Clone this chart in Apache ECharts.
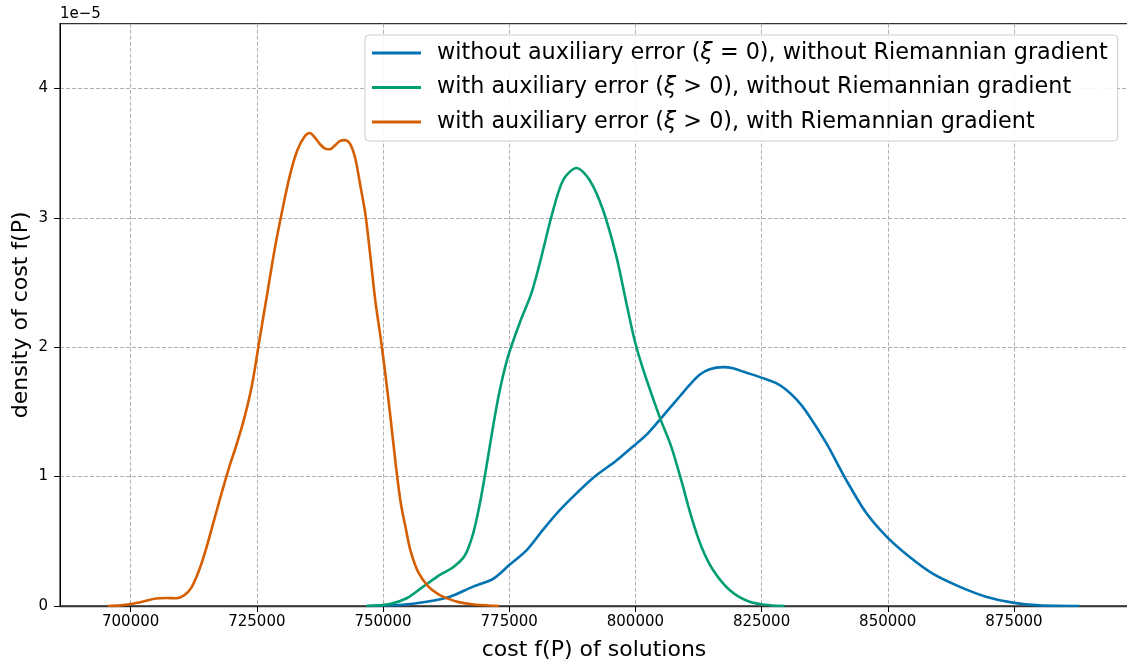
<!DOCTYPE html>
<html>
<head>
<meta charset="utf-8">
<script src="https://cdn.jsdelivr.net/npm/echarts@6/dist/echarts.min.js"></script>
<style>
html,body{margin:0;padding:0;background:#fff;}
#c{width:1127px;height:664px;}
</style>
</head>
<body>
<div id="c"></div>
<script>
// ---- data (x in cost units, y in units of 1e-5) ----
const seriesNames = [
  "without auxiliary error (ξ = 0), without Riemannian gradient",
  "with auxiliary error (ξ > 0), without Riemannian gradient",
  "with auxiliary error (ξ > 0), with Riemannian gradient"
];
const seriesColors = ["#0173b2", "#029e73", "#d55e00"];

const blueX = [746750, 753350, 758630, 763240, 767850, 771810, 775120, 778420, 781720, 785020, 788320, 791610, 796240, 799530, 802170, 804810, 806790, 808770, 810750, 812730, 814710, 817350, 819330, 821300, 825260, 827900, 829880, 831860, 833840, 837800, 841760, 845720, 849680, 854290, 858900, 864190, 869470, 874740, 880020, 887940];
const blueY = [0, 0.008, 0.033, 0.072, 0.15, 0.21, 0.32, 0.43, 0.59, 0.74, 0.87, 0.99, 1.124, 1.233, 1.322, 1.438, 1.529, 1.619, 1.709, 1.787, 1.83, 1.846, 1.838, 1.812, 1.761, 1.722, 1.671, 1.598, 1.503, 1.26, 0.975, 0.72, 0.54, 0.38, 0.25, 0.15, 0.072, 0.026, 0.005, 0];

const greenX = [746750, 751370, 754670, 757960, 761260, 763900, 766210, 767850, 769180, 770500, 771810, 773140, 774780, 777100, 779420, 781390, 783370, 785670, 788320, 790950, 793590, 796240, 798220, 799870, 801520, 804810, 807120, 809100, 811080, 813060, 815360, 818660, 822620, 827240, 829550];
const greenY = [0, 0.015, 0.06, 0.15, 0.24, 0.30, 0.39, 0.56, 0.79, 1.08, 1.39, 1.67, 1.93, 2.19, 2.42, 2.70, 3.01, 3.29, 3.385, 3.29, 3.06, 2.70, 2.34, 2.05, 1.83, 1.46, 1.23, 0.97, 0.69, 0.46, 0.28, 0.124, 0.033, 0.003, 0];

const orangeX = [695500, 698000, 700000, 702500, 705000, 707000, 709000, 710500, 712000, 713500, 715000, 716500, 718000, 719500, 721000, 722500, 724000, 725500, 727000, 728500, 730000, 731500, 733000, 734500, 735500, 736500, 737500, 738500, 739500, 740500, 741500, 742500, 743500, 744500, 745500, 746500, 747500, 748500, 749500, 750500, 751500, 752500, 753500, 754500, 755500, 757000, 759000, 761000, 763000, 765000, 768000, 771000, 773000];
const orangeY = [0, 0.005, 0.015, 0.035, 0.058, 0.062, 0.06, 0.08, 0.14, 0.27, 0.45, 0.66, 0.87, 1.07, 1.25, 1.45, 1.70, 2.05, 2.40, 2.75, 3.05, 3.32, 3.52, 3.63, 3.655, 3.62, 3.57, 3.535, 3.53, 3.56, 3.595, 3.60, 3.57, 3.46, 3.25, 3.03, 2.70, 2.35, 2.08, 1.78, 1.45, 1.10, 0.80, 0.60, 0.42, 0.26, 0.15, 0.09, 0.055, 0.03, 0.012, 0.004, 0];

const xTicks = [700000, 725000, 750000, 775000, 800000, 825000, 850000, 875000];
const yTicks = [0, 1, 2, 3, 4];
const xRange = [686000, 897600];
const yRange = [0, 4.5];

// ---- chart ----
const zip = (xs, ys) => xs.map((x, i) => [x, ys[i]]);
const allX = [blueX, greenX, orangeX];
const allY = [blueY, greenY, orangeY];

const font = 'DejaVu Sans';
const chart = echarts.init(document.getElementById('c'), null, {renderer: 'canvas'});

function legendFmt(name) {
  const parts = name.split('ξ');
  return '{f|' + parts[0] + '}{i|ξ}{t|' + parts[1] + '}';
}

chart.setOption({
  animation: false,
  backgroundColor: '#fff',
  grid: {left: 60, top: 23.7, width: 1068, height: 582.3, show: true, borderColor: '#333', borderWidth: 1.3, containLabel: false, outerBoundsMode: 'none'},
  graphic: [{
    type: 'text', left: 60, top: 7,
    style: {text: '1e\u22125', font: '15px "DejaVu Sans"', fill: '#000'}
  }],
  legend: {
    orient: 'vertical',
    left: 365, top: 35,
    padding: [5, 10, 6, 7],
    itemGap: 8.5,
    itemWidth: 49,
    itemHeight: 3,
    icon: 'rect',
    borderColor: '#cccccc',
    borderWidth: 1,
    borderRadius: 4,
    backgroundColor: 'rgba(255,255,255,0.9)',
    formatter: legendFmt,
    textStyle: {
      fontFamily: font, fontSize: 22.3, color: '#000', lineHeight: 26,
      rich: {
        f: {fontFamily: font, fontSize: 22.3, color: '#000', lineHeight: 26, padding: [0, 0, 0, 11]},
        t: {fontFamily: font, fontSize: 22.3, color: '#000', lineHeight: 26},
        i: {fontFamily: font, fontSize: 22.3, fontStyle: 'italic', color: '#000', lineHeight: 26}
      }
    },
    data: seriesNames
  },
  xAxis: {
    type: 'value', min: xRange[0], max: xRange[1],
    name: 'cost f(P) of solutions', nameLocation: 'middle', nameGap: 33,
    nameTextStyle: {fontFamily: font, fontSize: 22, color: '#000'},
    axisLine: {show: true, onZero: false, lineStyle: {color: '#333', width: 1.3}},
    axisTick: {show: true, length: 6, customValues: xTicks, lineStyle: {color: '#000', width: 1}},
    axisLabel: {customValues: xTicks, fontFamily: font, fontSize: 15, color: '#000', margin: 9, formatter: v => String(v)},
    splitLine: {show: true, lineStyle: {color: '#b0b0b0', width: 1, type: [4, 2]}}
  },
  yAxis: {
    type: 'value', min: yRange[0], max: yRange[1],
    name: 'density of cost f(P)', nameLocation: 'middle', nameGap: 28,
    nameMoveOverlap: false,
    nameTextStyle: {fontFamily: font, fontSize: 22, color: '#000'},
    axisLine: {show: true, lineStyle: {color: '#000', width: 1}},
    axisTick: {show: true, length: 6, customValues: yTicks, lineStyle: {color: '#000', width: 1}},
    axisLabel: {customValues: yTicks, fontFamily: font, fontSize: 15, color: '#000', margin: 12, formatter: v => String(v)},
    splitLine: {show: true, lineStyle: {color: '#b0b0b0', width: 1, type: [4, 2]}}
  },
  series: seriesNames.map((n, i) => ({
    name: n, type: 'line', data: zip(allX[i], allY[i]),
    showSymbol: false, symbol: 'none', smooth: 0.3,
    lineStyle: {color: seriesColors[i], width: 2.6},
    itemStyle: {color: seriesColors[i]},
    z: 3 + i
  }))
});
</script>
</body>
</html>
